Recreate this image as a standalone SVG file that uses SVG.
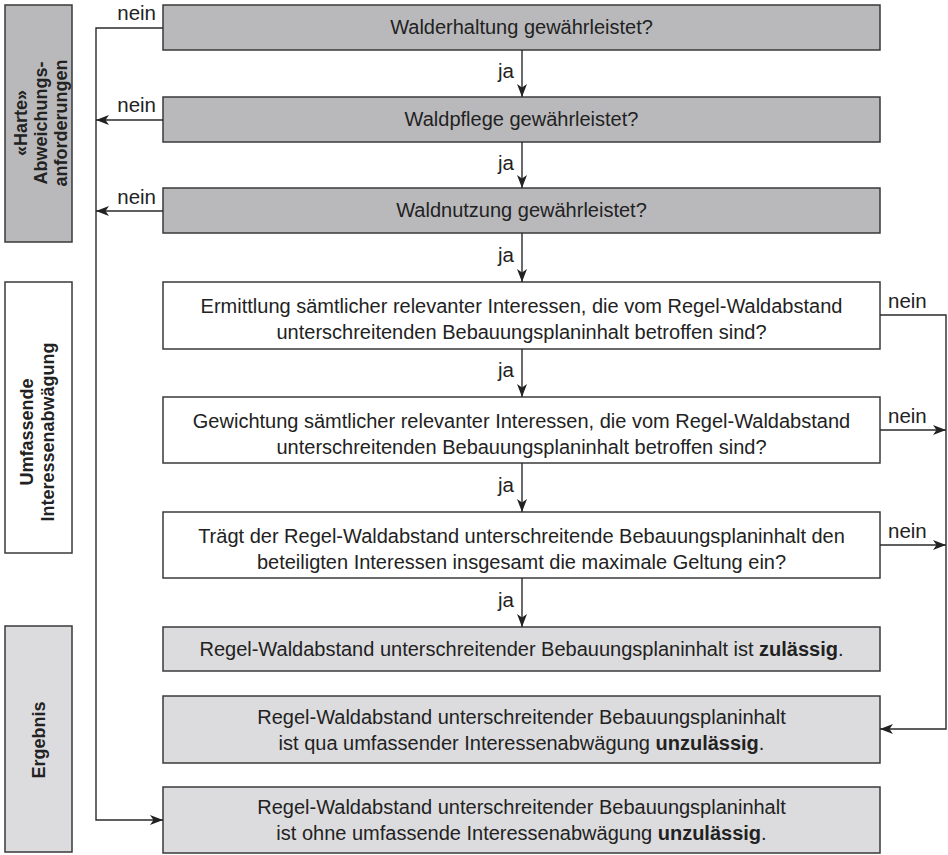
<svg xmlns="http://www.w3.org/2000/svg" width="948" height="855" viewBox="0 0 948 855">
<style>
text{font-family:"Liberation Sans",Arial,sans-serif;font-size:20px;fill:#222}
.c{text-anchor:middle}
.side{font-weight:bold;text-anchor:middle;font-size:18px}
.dark{fill:#b9b9bc;stroke:#3a3a3a;stroke-width:1.5}
.light{fill:#dcdcde;stroke:#3a3a3a;stroke-width:1.5}
.white{fill:#fff;stroke:#3a3a3a;stroke-width:1.5}
.ln{fill:none;stroke:#2a2a2a;stroke-width:1.4}
.lbl{font-size:20.5px}
</style>
<defs>
<marker id="ah" viewBox="0 0 13 10" refX="13" refY="5" markerWidth="13" markerHeight="10" markerUnits="userSpaceOnUse" orient="auto">
<path d="M0,0 L13,5 L0,10 L3.5,5 z" fill="#222"/>
</marker>
</defs>
<rect width="948" height="855" fill="#fff"/>

<g id="side-harte">
<rect class="dark" x="5" y="5" width="67" height="237"/>
<text class="side" transform="translate(47,123) rotate(-90)"><tspan x="0" y="-20">«Harte»</tspan><tspan x="0" y="0">Abweichungs-</tspan><tspan x="0" y="20">anforderungen</tspan></text>
</g>
<g id="side-umfassend">
<rect class="white" x="5" y="282" width="67" height="271"/>
<text class="side" transform="translate(44,432) rotate(-90)"><tspan x="0" y="-11">Umfassende</tspan><tspan x="0" y="10">Interessenabwägung</tspan></text>
</g>
<g id="side-ergebnis">
<rect class="light" x="5" y="626" width="67" height="226"/>
<text class="side" transform="translate(45,740) rotate(-90)"><tspan x="0" y="0">Ergebnis</tspan></text>
</g>

<g id="n1"><rect class="dark" x="163" y="5" width="717" height="45"/><text class="c" x="521.5" y="34">Walderhaltung gewährleistet?</text></g>
<g id="n2"><rect class="dark" x="163" y="97" width="717" height="45"/><text class="c" x="521.5" y="126">Waldpflege gewährleistet?</text></g>
<g id="n3"><rect class="dark" x="163" y="188" width="717" height="45"/><text class="c" x="521.5" y="217">Waldnutzung gewährleistet?</text></g>
<g id="n4"><rect class="white" x="163" y="282" width="717" height="67"/><text class="c" x="521.5" y="313">Ermittlung sämtlicher relevanter Interessen, die vom Regel-Waldabstand<tspan x="521.5" dy="26">unterschreitenden Bebauungsplaninhalt betroffen sind?</tspan></text></g>
<g id="n5"><rect class="white" x="163" y="397" width="717" height="66"/><text class="c" x="521.5" y="428">Gewichtung sämtlicher relevanter Interessen, die vom Regel-Waldabstand<tspan x="521.5" dy="26">unterschreitenden Bebauungsplaninhalt betroffen sind?</tspan></text></g>
<g id="n6"><rect class="white" x="163" y="512" width="717" height="66"/><text class="c" x="521.5" y="543">Trägt der Regel-Waldabstand unterschreitende Bebauungsplaninhalt den<tspan x="521.5" dy="26">beteiligten Interessen insgesamt die maximale Geltung ein?</tspan></text></g>
<g id="n7"><rect class="light" x="163" y="627" width="717" height="44"/><text class="c" x="521.5" y="656">Regel-Waldabstand unterschreitender Bebauungsplaninhalt ist <tspan font-weight="bold">zulässig</tspan>.</text></g>
<g id="n8"><rect class="light" x="163" y="696" width="717" height="67"/><text class="c" x="521.5" y="724">Regel-Waldabstand unterschreitender Bebauungsplaninhalt<tspan x="521.5" dy="26">ist qua umfassender Interessenabwägung <tspan font-weight="bold">unzulässig</tspan>.</tspan></text></g>
<g id="n9"><rect class="light" x="163" y="787" width="717" height="66"/><text class="c" x="521.5" y="814">Regel-Waldabstand unterschreitender Bebauungsplaninhalt<tspan x="521.5" dy="26">ist ohne umfassende Interessenabwägung <tspan font-weight="bold">unzulässig</tspan>.</tspan></text></g>

<g id="connectors">
<line class="ln" x1="522" y1="50" x2="522" y2="97" marker-end="url(#ah)"/>
<line class="ln" x1="522" y1="142" x2="522" y2="188" marker-end="url(#ah)"/>
<line class="ln" x1="522" y1="233" x2="522" y2="282" marker-end="url(#ah)"/>
<line class="ln" x1="522" y1="349" x2="522" y2="397" marker-end="url(#ah)"/>
<line class="ln" x1="522" y1="463" x2="522" y2="512" marker-end="url(#ah)"/>
<line class="ln" x1="522" y1="578" x2="522" y2="627" marker-end="url(#ah)"/>
<polyline class="ln" points="163,28 96,28 96,820 163,820" marker-end="url(#ah)"/>
<line class="ln" x1="163" y1="120" x2="96" y2="120" marker-end="url(#ah)"/>
<line class="ln" x1="163" y1="211" x2="96" y2="211" marker-end="url(#ah)"/>
<polyline class="ln" points="880,315 946,315 946,729 880,729" marker-end="url(#ah)"/>
<line class="ln" x1="880" y1="430" x2="946" y2="430" marker-end="url(#ah)"/>
<line class="ln" x1="880" y1="545" x2="946" y2="545" marker-end="url(#ah)"/>
<g>
<text class="lbl" x="514" y="78" text-anchor="end">ja</text>
<text class="lbl" x="514" y="170" text-anchor="end">ja</text>
<text class="lbl" x="514" y="262" text-anchor="end">ja</text>
<text class="lbl" x="514" y="377" text-anchor="end">ja</text>
<text class="lbl" x="514" y="492" text-anchor="end">ja</text>
<text class="lbl" x="514" y="607" text-anchor="end">ja</text>
<text class="lbl" x="156" y="20" text-anchor="end">nein</text>
<text class="lbl" x="156" y="112" text-anchor="end">nein</text>
<text class="lbl" x="156" y="204" text-anchor="end">nein</text>
<text class="lbl" x="888" y="308">nein</text>
<text class="lbl" x="888" y="423">nein</text>
<text class="lbl" x="888" y="538">nein</text>
</g>
</g>
</svg>
